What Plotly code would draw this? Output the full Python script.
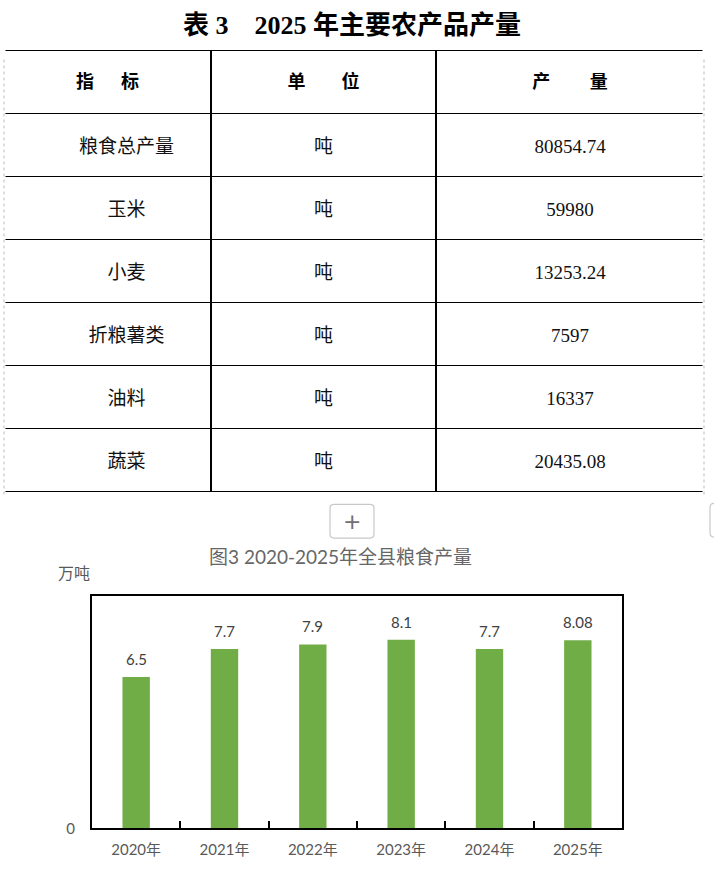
import plotly.graph_objects as go

# 表 3 数据
headers = ["指\u3000\u2002标", "单\u3000\u3000位", "产\u3000\u3000\u2009量"]
items = ["粮食总产量", "玉米", "小麦", "折粮薯类", "油料", "蔬菜"]
units = ["吨", "吨", "吨", "吨", "吨", "吨"]
outputs = ["80854.74", "59980", "13253.24", "7597", "16337", "20435.08"]

# 图 3 数据
years = ["2020年", "2021年", "2022年", "2023年", "2024年", "2025年"]
grain = [6.5, 7.7, 7.9, 8.1, 7.7, 8.08]
grain_labels = ["6.5", "7.7", "7.9", "8.1", "7.7", "8.08"]

W, H = 714, 879
CJK = "Noto Sans CJK SC"
SERIF_CJK = "Liberation Serif, Noto Sans CJK SC"
LATIN = "Lato, Noto Sans CJK SC"
GRAY = "#595959"

SHIFT = 8           # 截图里表格以外的元素比预期高 8px，整体补回
HEAD_DY = 9         # 表头文字下移
CELL_DY = 17        # 正文文字下移
ROW_H = 63


def px(x):
    return x / W


def py(y):
    return 1 - y / H


def rounded_rect(x0, y0, x1, y1, r):
    # 屏幕像素 -> paper 坐标的圆角矩形路径
    X = lambda v: f"{px(v):.5f}"
    Y = lambda v: f"{py(v):.5f}"
    return (f"M {X(x0 + r)} {Y(y0)} L {X(x1 - r)} {Y(y0)} Q {X(x1)} {Y(y0)} {X(x1)} {Y(y0 + r)} "
            f"L {X(x1)} {Y(y1 - r)} Q {X(x1)} {Y(y1)} {X(x1 - r)} {Y(y1)} "
            f"L {X(x0 + r)} {Y(y1)} Q {X(x0)} {Y(y1)} {X(x0)} {Y(y1 - r)} "
            f"L {X(x0)} {Y(y0 + r)} Q {X(x0)} {Y(y0)} {X(x0 + r)} {Y(y0)} Z")


fig = go.Figure()

col_w = [207, 225, 268]
tab_x = [px(4), px(704)]
blank_cells = [[""] * len(items)] * 3
clear = "rgba(0,0,0,0)"

# 表格框线（空文字）
fig.add_trace(go.Table(
    domain=dict(x=tab_x, y=[py(504), py(51)]),
    columnwidth=col_w,
    header=dict(values=["", "", ""], height=ROW_H, fill_color="white",
                line=dict(color="black", width=1.5)),
    cells=dict(values=blank_cells, height=ROW_H, fill_color="white",
               line=dict(color="black", width=1.5)),
    hoverinfo="skip",
))

# 表头文字（透明底）
fig.add_trace(go.Table(
    domain=dict(x=tab_x, y=[py(504 + HEAD_DY), py(51 + HEAD_DY)]),
    columnwidth=col_w,
    header=dict(
        values=["<b>" + h + "</b>" for h in headers],
        height=ROW_H, align="center",
        fill_color=clear, line=dict(color=clear, width=0),
        font=dict(family=CJK, size=18, color="black"),
    ),
    cells=dict(values=blank_cells, height=ROW_H,
               fill_color=clear, line=dict(color=clear, width=0)),
    hoverinfo="skip",
))

# 正文文字（透明底），首列略偏右
items_txt = ["\u3000\u3000" + s for s in items]
fig.add_trace(go.Table(
    domain=dict(x=tab_x, y=[py(504 + CELL_DY), py(51 + CELL_DY)]),
    columnwidth=col_w,
    header=dict(values=["", "", ""], height=ROW_H,
                fill_color=clear, line=dict(color=clear, width=0)),
    cells=dict(
        values=[items_txt, units, outputs],
        height=ROW_H, align="center",
        fill_color=clear, line=dict(color=clear, width=0),
        font=dict(family=SERIF_CJK, size=19, color="#111111"),
    ),
    hoverinfo="skip",
))

fig.add_trace(go.Bar(
    x=years,
    y=grain,
    width=0.31,
    marker=dict(color="#70AD47", line=dict(width=0)),
    hoverinfo="x+y",
))

# 柱顶数值
for yr, v, lab in zip(years, grain, grain_labels):
    fig.add_annotation(
        x=yr, y=v, xref="x", yref="y", text=lab, showarrow=False,
        yanchor="bottom", yshift=7,
        font=dict(family=LATIN, size=15, color="#404040"),
    )

fig.update_layout(
    width=W, height=H,
    margin=dict(l=0, r=0, t=0, b=0),
    paper_bgcolor="white",
    plot_bgcolor="white",
    showlegend=False,
    xaxis=dict(
        domain=[px(92), px(622)],
        type="category",
        showline=True, linecolor="black", linewidth=2, mirror=True,
        ticks="inside", tickson="boundaries", ticklen=7, tickwidth=2, tickcolor="black",
        showgrid=False,
        ticklabelstandoff=7,
        tickfont=dict(family=LATIN, size=15, color=GRAY),
        fixedrange=True,
    ),
    yaxis=dict(
        domain=[py(828 + SHIFT), py(593 + SHIFT)],
        range=[0, 10],
        showline=True, linecolor="black", linewidth=2, mirror=True,
        showgrid=False, zeroline=False,
        tickvals=[0], ticktext=["0"], ticks="",
        ticklabelstandoff=12,
        tickfont=dict(family=LATIN, size=15, color=GRAY),
        fixedrange=True,
    ),
)

# 表格标题
fig.add_annotation(
    x=px(352), y=py(26), xref="paper", yref="paper", showarrow=False,
    xanchor="center", yanchor="middle",
    text="<b>表 3\u00a0\u00a0\u00a0 2025 年主要农产品产量</b>",
    font=dict(family=SERIF_CJK, size=26, color="black"),
)

# 图题与单位
fig.add_annotation(
    x=px(340), y=py(562), xref="paper", yref="paper", showarrow=False,
    xanchor="center", yanchor="middle",
    text="图3 2020-2025年全县粮食产量",
    font=dict(family=LATIN, size=19, color="#666666"),
)
fig.add_annotation(
    x=px(74), y=py(577), xref="paper", yref="paper", showarrow=False,
    xanchor="center", yanchor="middle",
    text="万吨",
    font=dict(family=CJK, size=16, color=GRAY),
)

# "+" 按钮
fig.add_shape(type="path", xref="paper", yref="paper",
              path=rounded_rect(330, 509, 374, 543, 4),
              line=dict(color="#c8c8c8", width=1.2), fillcolor="white")
fig.add_annotation(
    x=px(352), y=py(526), xref="paper", yref="paper", showarrow=False,
    xanchor="center", yanchor="middle",
    text="+", font=dict(family="DejaVu Sans", size=22, color="#707070"),
)
fig.add_shape(type="path", xref="paper", yref="paper",
              path=rounded_rect(710, 508, 740, 542, 4),
              line=dict(color="#c8c8c8", width=1.2), fillcolor="white")

# 表格左右两侧为浅灰虚线
for xp in (4, 704):
    fig.add_shape(type="line", xref="paper", yref="paper",
                  x0=px(xp), x1=px(xp), y0=py(44), y1=py(506),
                  line=dict(color="white", width=3), layer="above")
    fig.add_shape(type="line", xref="paper", yref="paper",
                  x0=px(xp), x1=px(xp), y0=py(52 + SHIFT), y1=py(492 + SHIFT),
                  line=dict(color="#bdbdbd", width=1, dash="dot"), layer="above")

# 去掉 body 默认外边距
fig.write_html(
    "out.html",
    config={"displayModeBar": False},
    post_script="document.body.style.margin='0';",
)
